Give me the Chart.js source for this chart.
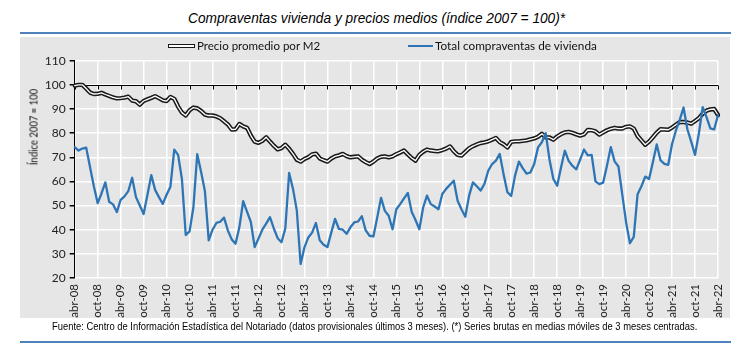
<!DOCTYPE html>
<html lang="es">
<head>
<meta charset="UTF-8">
<title>Compraventas vivienda y precios medios</title>
<script src="https://cdn.jsdelivr.net/npm/chart.js"></script>
<style>
  html, body { margin: 0; padding: 0; background: #fff; }
  body { width: 750px; height: 347px; position: relative; overflow: hidden; font-family: Lato, "Liberation Sans", sans-serif; color: #000; }
  .texto { position: absolute; white-space: nowrap; transform-origin: left center; }
  #titulo { left: 188px; top: 9px; font: italic 15px "Liberation Sans", Arial, sans-serif; }
  .regla { position: absolute; left: 20px; width: 711px; height: 2px; background: #4f81bd; }
  #panel { position: absolute; left: 20px; top: 37px; width: 710px; height: 281px; background: #e6e6e6; }
  #grafico { position: absolute; left: 0; top: 0; }
  .leyenda { top: 39px; font-size: 12px; line-height: 14px; color: #111; }
  .simbolo { position: absolute; }
  #simPrecio { left: 168px; top: 44px; width: 27px; height: 4px; background: #1a1a1a; }
  #simPrecio::after { content: ""; position: absolute; left: 1px; right: 1px; top: 1.4px; height: 1.3px; background: #fff; }
  #simTotal { left: 408px; top: 45px; width: 25px; height: 2.4px; background: #2e75b6; }
  #ejeY { position: absolute; left: 33px; top: 127px; font-size: 11.5px; white-space: nowrap; color: #111; }
  #fuente { left: 52px; top: 320px; font: 10.5px "Liberation Sans", Arial, sans-serif; }
</style>
</head>
<body>
  <div id="titulo" class="texto">Compraventas vivienda y precios medios (índice 2007 = 100)*</div>
  <div class="regla" style="top:32px"></div>
  <div id="panel"></div>
  <canvas id="grafico" width="750" height="347"></canvas>
  <div id="simPrecio" class="simbolo"></div>
  <div id="leyPrecio" class="texto leyenda" style="left:197px">Precio promedio por M2</div>
  <div id="simTotal" class="simbolo"></div>
  <div id="leyTotal" class="texto leyenda" style="left:435px">Total compraventas de vivienda</div>
  <div id="ejeY">Índice 2007 = 100</div>
  <div id="fuente" class="texto">Fuente: Centro de Información Estadística del Notariado (datos provisionales últimos 3 meses). (*) Series brutas en medias móviles de 3 meses centradas.</div>
  <div class="regla" style="top:341px"></div>

<script>
// meses de abr-08 a abr-22
const meses = ['ene', 'feb', 'mar', 'abr', 'may', 'jun', 'jul', 'ago', 'sep', 'oct', 'nov', 'dic'];
const categorias = [];
for (let i = 0; i < 169; i++) {
    const n = 3 + i;
    categorias.push(meses[n % 12] + '-' + String(8 + Math.floor(n / 12)).padStart(2, '0'));
}

const etiquetasEje = ['abr-08', 'oct-08', 'abr-09', 'oct-09', 'abr-10', 'oct-10', 'abr-11', 'oct-11',
    'abr-12', 'oct-12', 'abr-13', 'oct-13', 'abr-14', 'oct-14', 'abr-15', 'oct-15', 'abr-16', 'oct-16',
    'abr-17', 'oct-17', 'abr-18', 'oct-18', 'abr-19', 'oct-19', 'abr-20', 'oct-20', 'abr-21', 'oct-21', 'abr-22'];

const ticksY = [20, 30, 40, 50, 60, 70, 80, 90, 100, 110];

// Precio promedio por M2 (índice 2007 = 100)
const precioM2 = [
    99.7, 100, 100, 98.5, 96.8, 96.2, 96.3, 96.7, 96, 95.4, 94.8, 94.4,
    94.5, 94.7, 95.1, 93.5, 93.2, 91.8, 93.3, 94, 94.6, 95.3, 94.5, 93.6,
    93.3, 95, 94.2, 91, 88.5, 87.3, 89.5, 90.6, 90.3, 89.2, 87.7, 87.3,
    87.3, 86.9, 86.2, 84.9, 83.6, 81.5, 81.6, 83.8, 82.8, 82.2, 79, 76.5,
    76, 76.8, 78.3, 76.5, 74.8, 73.3, 73.8, 75.2, 73.5, 71.4, 69, 68.2,
    69.3, 70, 71.2, 71.5, 69.5, 68.8, 68.2, 69.5, 70.4, 70.8, 71.4, 70.5,
    70, 70.2, 70.4, 69, 68, 67.2, 68.2, 69.5, 70.2, 70.4, 70, 70.4,
    71.3, 72, 72.8, 71.2, 69.7, 68.6, 71, 72.3, 73.2, 72.8, 72.6, 72.5,
    73, 73.6, 74.5, 72.5, 71, 70.7, 72.2, 73.7, 74.6, 75.3, 75.9, 76.2,
    76.6, 77.3, 78, 76.3, 75.4, 74.1, 76.4, 76.6, 76.6, 76.8, 77, 77.4,
    77.8, 78.5, 79.7, 78.3, 78.2, 77.3, 78.6, 79.6, 80.3, 80.5, 80.1, 79.5,
    79, 79.5, 81.3, 81.2, 80.7, 79.4, 80.3, 81.2, 81.8, 82.2, 81.9, 81.9,
    82.6, 82.8, 81.9, 78.8, 77, 75.2, 76.5, 78.3, 80.2, 81.6, 81.5, 81.4,
    82.3, 83.5, 84.6, 84.6, 84.4, 83.9, 85, 86.2, 88, 89.3, 89.8, 90,
    87.5
];

// Total compraventas de vivienda (índice 2007 = 100)
const compraventas = [
    74.2, 72.8, 73.6, 74, 66, 58, 51, 55, 59.6, 51.6, 50.5, 47.3,
    52.4, 53.8, 56, 61.5, 53.5, 50, 46.5, 54.5, 62.6, 56.5, 53.5, 50.7,
    54.5, 57.8, 73.2, 71, 61, 37.8, 39.3, 49.3, 71.3, 64, 56, 35.6,
    40, 42.8, 43.3, 45, 39.7, 36, 34.2, 41, 51.8, 47.5, 43.2, 32.8,
    36.3, 40, 42.5, 45.2, 40.5, 36.5, 34.8, 40.5, 63.5, 57, 48, 25.8,
    32.7, 36.8, 38.8, 42.8, 35.6, 33.8, 32.8, 38.8, 44.5, 40.3, 40, 38.3,
    41, 43, 43.4, 45.6, 39.7, 37.5, 37.2, 45, 53.2, 47.8, 45.8, 40.2,
    48.5, 50.6, 53, 55.2, 47.4, 44, 40.2, 49.2, 54.1, 50.6, 49.6, 48.5,
    54.8, 56.9, 58.6, 60.3, 52, 48.5, 45.4, 54.1, 59.6, 58, 56.2, 59,
    64.4, 67.2, 68.6, 71.4, 63, 55.5, 54, 62.4, 68.2, 65.5, 63.2, 63.7,
    67.2, 74.1, 76.2, 80, 69, 61, 58.2, 65.8, 72.7, 68.5, 66.4, 65,
    69, 73.2, 70.8, 71, 60, 58.9, 59.5, 66.5, 74.2, 68.3, 66.2, 54.5,
    43, 34.4, 37, 54.7, 58, 62, 61, 68, 75.3, 68.7, 67.3, 66.9,
    75.5, 81, 85.5, 90.6, 81.6, 76.5, 71, 79.8, 90.8, 86.6, 82, 81.5,
    87.5
];

// eje horizontal que cruza en 100, con marcas hacia abajo
const ejeEn100 = {
    id: 'ejeEn100',
    beforeDatasetsDraw(chart) {
        const { ctx, chartArea, scales: { x, y } } = chart;
        const py = Math.round(y.getPixelForValue(100)) + 0.5;
        ctx.save();
        ctx.strokeStyle = '#000';
        ctx.lineWidth = 1;
        ctx.beginPath();
        ctx.moveTo(chartArea.left, py);
        ctx.lineTo(chartArea.right, py);
        categorias.forEach((c, i) => {
            if (etiquetasEje.includes(c)) {
                const px = Math.round(x.getPixelForValue(i)) + 0.5;
                ctx.moveTo(px, py);
                ctx.lineTo(px, py + 4);
            }
        });
        ctx.stroke();
        ctx.restore();
    }
};

const comun = { pointRadius: 0, tension: 0, fill: false, borderJoinStyle: 'round', borderCapStyle: 'round' };

new Chart(document.getElementById('grafico'), {
    type: 'line',
    data: {
        labels: categorias,
        datasets: [
            { ...comun, label: 'Precio promedio por M2', data: precioM2, borderColor: '#1a1a1a', borderWidth: 4.4, order: 3 },
            { ...comun, label: 'Precio promedio por M2 (interior)', data: precioM2, borderColor: '#ffffff', borderWidth: 1.3, order: 2 },
            { ...comun, label: 'Total compraventas de vivienda', data: compraventas, borderColor: '#2e75b6', borderWidth: 2.3, order: 1 }
        ]
    },
    options: {
        responsive: false,
        animation: false,
        devicePixelRatio: 1,
        layout: { padding: { top: 60.7, left: 0, right: 32, bottom: 28 } },
        plugins: {
            legend: { display: false },
            tooltip: { enabled: false }
        },
        scales: {
            x: {
                afterFit: (s) => { s.height = 41; },
                grid: { color: '#ffffff', lineWidth: 1.5, drawTicks: false },
                border: { display: false },
                ticks: {
                    autoSkip: false,
                    maxRotation: 90,
                    minRotation: 90,
                    padding: 6,
                    color: '#222',
                    font: { family: 'Lato', size: 11.5 },
                    callback: (v, i) => etiquetasEje.includes(categorias[i]) ? categorias[i] : null
                }
            },
            y: {
                min: 20,
                max: 110,
                afterFit: (s) => { s.width = 74.7; },
                afterBuildTicks: (s) => { s.ticks = ticksY.map(v => ({ value: v })); },
                grid: { color: '#ffffff', lineWidth: 1.5, tickColor: '#000', tickLength: 5 },
                border: { display: true, color: '#000', width: 1 },
                ticks: { padding: 4, color: '#222', font: { family: 'Lato', size: 12 } }
            }
        }
    },
    plugins: [ejeEn100]
});

// ajustar anchos de texto a la referencia
function ajustarAncho(id, ancho) {
    const el = document.getElementById(id);
    el.style.transform = 'scaleX(' + (ancho / el.scrollWidth) + ')';
}
ajustarAncho('titulo', 377);
ajustarAncho('fuente', 645);
ajustarAncho('leyPrecio', 123);
ajustarAncho('leyTotal', 162);

// título del eje vertical, girado y ajustado a su largo
const ejeY = document.getElementById('ejeY');
const k = 76 / ejeY.scrollWidth;
ejeY.style.transform = 'translate(-50%, -50%) rotate(-90deg) scaleX(' + k + ')';
</script>
</body>
</html>
